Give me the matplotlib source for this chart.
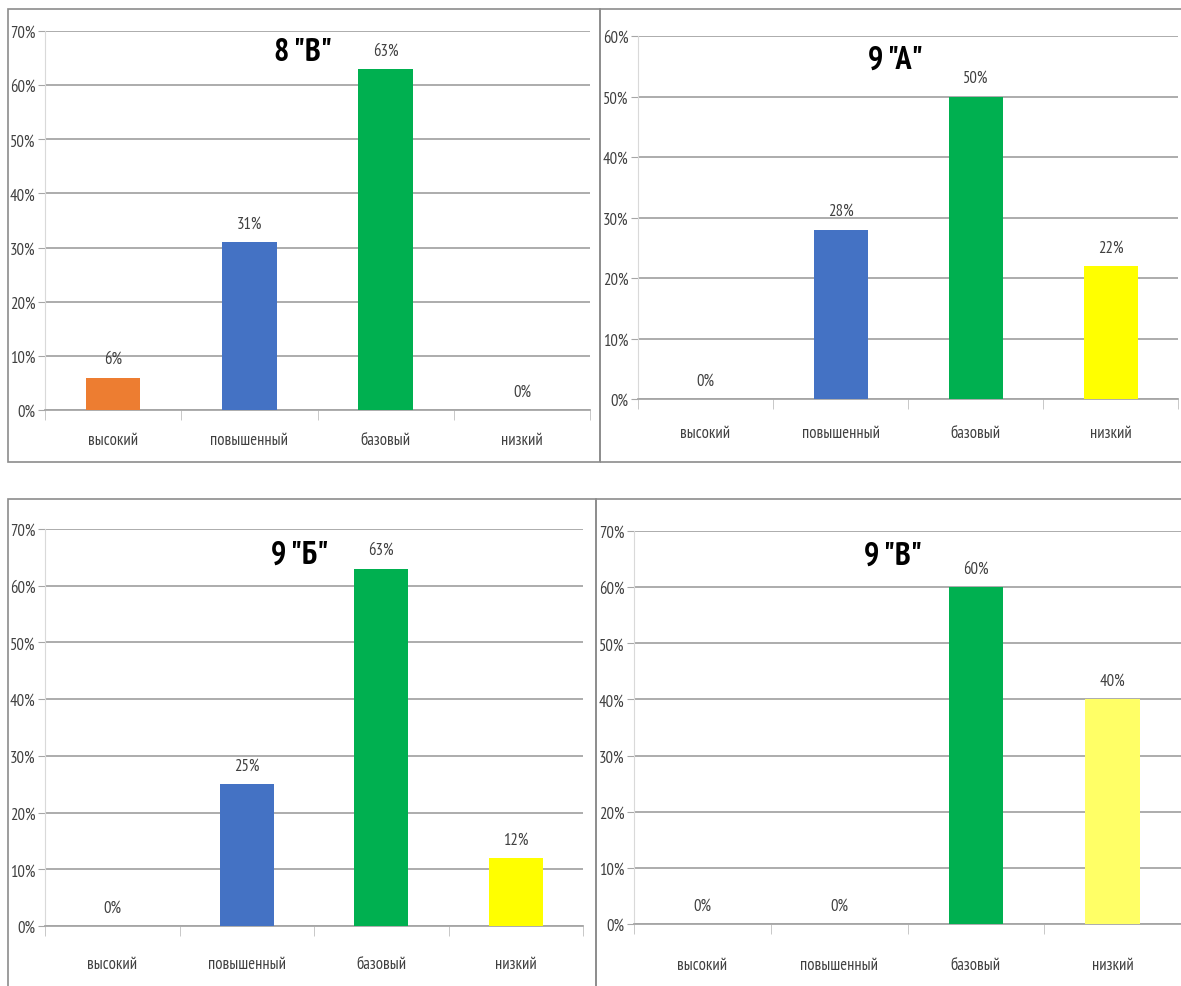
import numpy as np
import matplotlib
matplotlib.use("Agg")
from matplotlib import pyplot as plt
from matplotlib.patches import Rectangle
from matplotlib.ticker import FixedLocator

##################################################
# Data (percent of students per level)
categories = ["высокий", "повышенный", "базовый", "низкий"]

titles = ['8 "В"', '9 "А"', '9 "Б"', '9 "В"']
vals_8v = [6, 31, 63, 0]
vals_9a = [0, 28, 50, 22]
vals_9b = [0, 25, 63, 12]
vals_9v = [0, 0, 60, 40]
y_max = [70, 60, 70, 70]

colors_main = ["#ED7D31", "#4472C4", "#00B050", "#FFFF00"]
colors_9v = ["#ED7D31", "#4472C4", "#00B050", "#FFFF66"]

##################################################
# narrow font, falls back to condensed DejaVu
plt.rcParams['font.family'] = ['PT Sans Narrow', 'DejaVu Sans']
plt.rcParams['font.stretch'] = 'condensed'

W, H = 1181, 987
fig = plt.figure(figsize=(W / 100, H / 100), dpi=100)


def px_box(left, right, top, bottom):
    # pixel box -> figure fraction [x0, y0, w, h]
    return [left / W, (H - bottom) / H, (right - left) / W, (bottom - top) / H]


# plot area (left, right, top, bottom) in pixels, panel frame, title baseline
axes_px = [(45, 590, 32, 411), (638, 1178, 37, 400),
           (45, 583, 530, 927), (634, 1181, 532, 925)]
frames_px = [(8, 600, 10, 463), (600, 1185, 10, 463),
             (8, 596, 500, 992), (596, 1185, 500, 992)]
title_px = [(303, 61), (895, 69), (300, 564), (893, 565)]
label_pad = [15.5, 19, 21.5, 23.5]   # category labels sit lower in some panels

all_vals = [vals_8v, vals_9a, vals_9b, vals_9v]
all_colors = [colors_main, colors_main, colors_main, colors_9v]

for (l, r, t, b) in frames_px:
    fig.add_artist(Rectangle((l / W, (H - b) / H), (r - l) / W, (b - t) / H,
                             transform=fig.transFigure, fill=False,
                             edgecolor="#8C8C8C", linewidth=1.2))

x = np.arange(len(categories))
for i in range(4):
    ax = fig.add_axes(px_box(*axes_px[i]))
    vals = all_vals[i]
    ax.bar(x, vals, width=0.4, color=all_colors[i], zorder=3)

    for xi, v in zip(x, vals):
        ax.annotate(f"{v}%", (xi, v), xytext=(0, 10.5), textcoords="offset points",
                    ha="center", va="baseline", fontsize=12, color="#404040")

    ax.set_xlim(-0.5, len(categories) - 0.5)
    ax.set_ylim(0, y_max[i])
    yt = np.arange(0, y_max[i] + 1, 10)
    ax.set_yticks(yt)
    ax.set_yticklabels([f"{v}%" for v in yt])
    ax.yaxis.grid(True, color="#A6A6A6", linewidth=1.3, zorder=0)
    ax.set_axisbelow(True)

    ax.set_xticks(x)
    ax.set_xticklabels(categories)
    ax.xaxis.set_minor_locator(FixedLocator(np.arange(-0.5, len(categories), 1)))
    ax.tick_params(axis="x", which="major", length=0, pad=label_pad[i],
                   labelsize=12, labelcolor="#404040")
    ax.tick_params(axis="x", which="minor", length=7, color="#BFBFBF")
    ax.tick_params(axis="y", length=5, color="#A6A6A6", pad=2,
                   labelsize=12, labelcolor="#404040")

    for s in ["top", "right"]:
        ax.spines[s].set_visible(False)
    ax.spines["left"].set_color("#D9D9D9")
    ax.spines["bottom"].set_color("#A6A6A6")
    ax.spines["bottom"].set_linewidth(1.3)
    ax.set_facecolor("none")

    tx, ty = title_px[i]
    fig.text(tx / W, (H - ty) / H, titles[i], ha="center", va="baseline",
             fontsize=23, fontweight="bold", color="black")

plt.savefig("out.png", dpi=100)
